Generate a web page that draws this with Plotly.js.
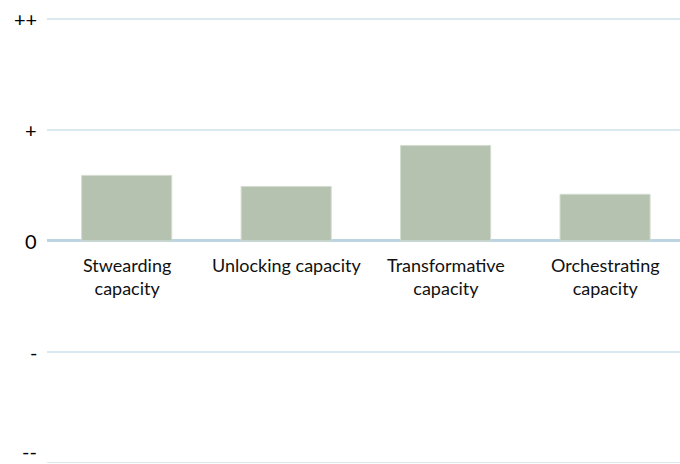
<!DOCTYPE html>
<html>
<head>
<meta charset="utf-8">
<script src="https://cdn.plot.ly/plotly-3.0.1.min.js"></script>
<style>html,body{margin:0;padding:0;background:#fff;}#chart{width:680px;height:464px;}</style>
</head>
<body>
<div id="chart"></div>
<script>
const categories = ["Stwearding<br>capacity", "Unlocking capacity", "Transformative<br>capacity", "Orchestrating<br>capacity"];
const values = [0.59, 0.49, 0.86, 0.42];
const tickValues = [-2, -1, 0, 1, 2];
const tickLabels = ["--", "-", "0", "+", "++"];

const xIdx = categories.map((c, i) => i);

const trace = {
  type: "bar",
  x: xIdx,
  y: values,
  width: 0.565,
  marker: {color: "#b5c2b0", line: {color: "#d3dccf", width: 1}},
  hoverinfo: "skip"
};

const annotations = categories.map((c, i) => ({
  x: i, y: 0, xref: "x", yref: "y",
  text: c, showarrow: false,
  yanchor: "top", xanchor: "center",
  yshift: -11,
  font: {family: "Lato, sans-serif", size: 18, color: "#111"}
}));

tickValues.forEach((v, i) => {
  const isBottom = (v === Math.min(...tickValues));
  annotations.push({
    x: 0, xref: "paper", y: v, yref: "y",
    text: tickLabels[i], showarrow: false,
    xanchor: "right", xshift: -9,
    yanchor: isBottom ? "bottom" : "middle",
    yshift: isBottom ? -1 : 0,
    borderpad: 0,
    font: {family: "Lato, sans-serif", size: 20, color: "#000"}
  });
});

const layout = {
  width: 680, height: 464,
  margin: {l: 47, r: 0, t: 15, b: 0},
  paper_bgcolor: "#fff", plot_bgcolor: "#fff",
  showlegend: false,
  xaxis: {
    range: [-0.5, 3.47],
    showticklabels: false, showgrid: false, zeroline: false, ticks: "",
    fixedrange: true
  },
  yaxis: {
    range: [-2.012, 2.036],
    tickmode: "array", tickvals: tickValues, ticktext: tickLabels,
    showticklabels: false,
    showgrid: true, gridcolor: "#dae8f0", gridwidth: 1.5,
    zeroline: true, zerolinecolor: "#bdd4e2", zerolinewidth: 3,
    ticks: "",
    showline: false
  },
  annotations: annotations
};

Plotly.newPlot("chart", [trace], layout, {displayModeBar: false, staticPlot: true});
</script>
</body>
</html>
